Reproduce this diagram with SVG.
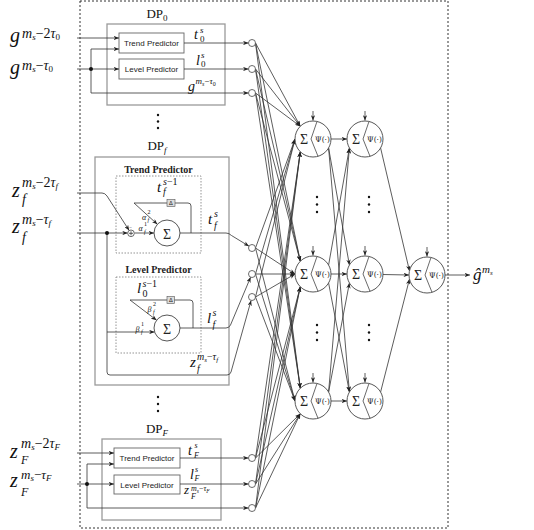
<svg xmlns="http://www.w3.org/2000/svg" width="534" height="530" viewBox="0 0 534 530">
<style>
.c{fill:none;stroke:#333;stroke-width:0.8}
.ca{fill:none;stroke:#333;stroke-width:0.8;marker-end:url(#ah)}
.box{fill:none;stroke:#9a9a9a;stroke-width:1.3}
.pb{fill:#fff;stroke:#666;stroke-width:0.9}
.dbox{fill:none;stroke:#888;stroke-width:0.9;stroke-dasharray:1.5 1.5}
.in{fill:#fff;stroke:#444;stroke-width:0.8}
.nrn{fill:#fff;stroke:#444;stroke-width:0.9}
.dv{fill:none;stroke:#444;stroke-width:0.8}
.mi{font-family:"Liberation Serif",serif;font-style:italic;fill:#111}
.up{font-style:normal}
.rm{font-family:"Liberation Serif",serif;fill:#111}
.sans{font-family:"Liberation Sans",Arial,sans-serif;font-size:8px;fill:#222;text-anchor:middle}
.ttl{font-family:"Liberation Serif",serif;font-weight:bold;font-size:10px;text-anchor:middle;fill:#222}
.sig{font-family:"Liberation Serif",serif;font-size:14px;text-anchor:middle;fill:#222}
.psi{font-family:"DejaVu Serif",serif;font-size:7.5px;text-anchor:middle;fill:#222}
.dl{fill:#dcdcdc;stroke:#555;stroke-width:0.6}
.dt{font-family:"DejaVu Sans",sans-serif;font-size:5.5px;text-anchor:middle;fill:#222}
.pt{fill:#111}
</style>
<defs>
<marker id="ah" viewBox="0 0 10 8" refX="10" refY="4" markerWidth="5.5" markerHeight="4.4" orient="auto" markerUnits="userSpaceOnUse">
<path d="M0,0 L10,4 L0,8 L3,4 z" fill="#222"/>
</marker>
</defs>

<rect x="80" y="1" width="368" height="527" fill="none" stroke="#333" stroke-width="1" stroke-dasharray="2 2"/>

<g id="inputs">
<text class="mi" font-size="20" x="10" y="42">g</text>
<text class="mi" font-size="14" x="22" y="37.5">m<tspan font-size="9" dy="2">s</tspan><tspan class="up" dy="-2">−2</tspan>τ<tspan class="up" font-size="9" dy="2">0</tspan></text>
<text class="mi" font-size="20" x="10" y="74">g</text>
<text class="mi" font-size="14" x="22" y="69.5">m<tspan font-size="9" dy="2">s</tspan><tspan class="up" dy="-2">−</tspan>τ<tspan class="up" font-size="9" dy="2">0</tspan></text>

<text class="mi" font-size="20" x="12" y="197">z</text>
<text class="mi" font-size="14" x="22" y="186.5">m<tspan font-size="9" dy="2">s</tspan><tspan class="up" dy="-2">−2</tspan>τ<tspan font-size="9" dy="2">f</tspan></text>
<text class="mi" font-size="14" x="22" y="204">f</text>
<text class="mi" font-size="20" x="12" y="233">z</text>
<text class="mi" font-size="14" x="22" y="224">m<tspan font-size="9" dy="2">s</tspan><tspan class="up" dy="-2">−</tspan>τ<tspan font-size="9" dy="2">f</tspan></text>
<text class="mi" font-size="14" x="22" y="242">f</text>

<text class="mi" font-size="20" x="10" y="458">z</text>
<text class="mi" font-size="14" x="21" y="448">m<tspan font-size="9" dy="2">s</tspan><tspan class="up" dy="-2">−2</tspan>τ<tspan font-size="9" dy="2">F</tspan></text>
<text class="mi" font-size="12" x="21" y="464">F</text>
<text class="mi" font-size="20" x="10" y="487">z</text>
<text class="mi" font-size="13" x="21" y="479">m<tspan font-size="9" dy="2">s</tspan><tspan class="up" dy="-2">−</tspan>τ<tspan font-size="9" dy="2">F</tspan></text>
<text class="mi" font-size="12" x="21" y="496">F</text>
</g>

<g id="DP0">
<text class="rm" font-size="13" x="157" y="18" text-anchor="middle">DP<tspan font-size="9" dy="2.5">0</tspan></text>
<rect class="box" x="107" y="24" width="118" height="81"/>
<rect class="pb" x="119" y="33" width="65" height="20"/>
<text class="sans" x="151.5" y="46">Trend Predictor</text>
<rect class="pb" x="119" y="59" width="65" height="20"/>
<text class="sans" x="151.5" y="72">Level Predictor</text>
<text class="mi" font-size="14" x="194" y="39">t</text>
<text class="mi" font-size="9" x="200" y="32.5">s</text>
<text class="rm" font-size="9" x="200" y="41.5">0</text>
<text class="mi" font-size="14" x="196" y="65">l</text>
<text class="mi" font-size="9" x="201" y="58">s</text>
<text class="rm" font-size="9" x="201" y="67">0</text>
<text class="mi" font-size="14" x="188" y="91">g</text>
<text class="mi" font-size="9" x="195.5" y="84">m<tspan font-size="6" dy="1.5">s</tspan><tspan class="up" dy="-1.5">−</tspan>τ<tspan class="up" font-size="6" dy="1.5">0</tspan></text>
</g>

<g id="dots">
<circle class="pt" cx="158" cy="115" r="1.2"/><circle class="pt" cx="158" cy="121.5" r="1.2"/><circle class="pt" cx="158" cy="128" r="1.2"/>
<circle class="pt" cx="158" cy="397" r="1.2"/><circle class="pt" cx="158" cy="404" r="1.2"/><circle class="pt" cx="158" cy="411" r="1.2"/>
<circle class="pt" cx="317" cy="197" r="1.2"/><circle class="pt" cx="317" cy="204.5" r="1.2"/><circle class="pt" cx="317" cy="212" r="1.2"/>
<circle class="pt" cx="317" cy="325" r="1.2"/><circle class="pt" cx="317" cy="332.5" r="1.2"/><circle class="pt" cx="317" cy="340" r="1.2"/>
<circle class="pt" cx="369" cy="197" r="1.2"/><circle class="pt" cx="369" cy="204.5" r="1.2"/><circle class="pt" cx="369" cy="212" r="1.2"/>
<circle class="pt" cx="369" cy="325" r="1.2"/><circle class="pt" cx="369" cy="332.5" r="1.2"/><circle class="pt" cx="369" cy="340" r="1.2"/>
</g>

<g id="DPf">
<text class="rm" font-size="13" x="157" y="150" text-anchor="middle">DP<tspan class="mi" font-size="9" dy="2.5">f</tspan></text>
<rect class="box" x="95" y="157" width="134" height="228"/>
<rect class="dbox" x="116" y="176" width="85" height="77"/>
<text class="ttl" x="158.5" y="173">Trend Predictor</text>
<rect class="dbox" x="116" y="277" width="85" height="76"/>
<text class="ttl" x="158.5" y="273">Level Predictor</text>
</g>

<g id="DPF">
<text class="rm" font-size="13" x="157" y="433" text-anchor="middle">DP<tspan class="mi" font-size="9" dy="2.5">F</tspan></text>
<rect class="box" x="102" y="439" width="119" height="81"/>
<rect class="pb" x="114" y="448" width="66" height="20"/>
<text class="sans" x="147" y="461">Trend Predictor</text>
<rect class="pb" x="114" y="475" width="66" height="19"/>
<text class="sans" x="147" y="487.5">Level Predictor</text>
<text class="mi" font-size="14" x="188" y="455">t</text>
<text class="mi" font-size="8" x="194.5" y="447.5">s</text>
<text class="mi" font-size="8" x="194" y="457.5">F</text>
<text class="mi" font-size="14" x="190" y="478.5">l</text>
<text class="mi" font-size="8" x="195" y="471.5">s</text>
<text class="mi" font-size="8" x="194.5" y="480.5">F</text>
<text class="mi" font-size="13" x="184" y="494">z</text>
<text class="mi" font-size="8" x="191" y="491">m<tspan font-size="5.5" dy="1.5">s</tspan><tspan class="up" dy="-1.5">−</tspan>τ<tspan font-size="5.5" dy="1.5">F</tspan></text>
<text class="mi" font-size="8" x="191" y="499">F</text>
</g>

<g id="connectors">
<path class="ca" d="M77,38 L119,38"/>
<path class="ca" d="M77,69 L119,69"/>
<path class="ca" d="M91,69 L91,49 L119,49"/>
<path class="ca" d="M91,69 L91,93 L248.5,93"/>
<path class="ca" d="M184,43 L248.5,43"/>
<path class="ca" d="M184,69 L248.5,69"/>
<path class="ca" d="M77,453 L114,453"/>
<path class="ca" d="M77,484 L114,484"/>
<path class="ca" d="M87,484 L87,464 L114,464"/>
<path class="ca" d="M87,484 L87,508 L248.5,508"/>
<path class="ca" d="M180,458 L248.5,458"/>
<path class="ca" d="M180,484 L248.5,484"/>
<path class="ca" d="M77,193 L102,193 Q105,193 107,196 L129.2,230.5"/>
<path class="ca" d="M77,233 L127.7,233"/>
<path class="ca" d="M134.5,233 L154,233"/>
<path class="ca" d="M191,233 L191,206 Q191,203 188,203 L134,203 L157.4,224.3"/>
<path class="ca" d="M180,233 L226,233 Q229,233 231.5,235.5 L249,246.2"/>
<path class="ca" d="M107,233 L107,372 Q107,375 110,375 L227,375 Q230,375 231,372 L251.1,300.4"/>
<path class="ca" d="M107,332 L154.6,332"/>
<path class="ca" d="M193,328 L193,303 Q193,300 190,300 L130,300 L156.6,320.2"/>
<path class="ca" d="M180,328 L226,328 Q229,328 230.5,325 L250.6,277.2"/>

<path class="ca" d="M255.5,43 L300.3,126.3"/>
<path class="ca" d="M255.5,69 L300.3,126.3"/>
<path class="ca" d="M255.5,93 L300.3,126.3"/>
<path class="ca" d="M255.5,43 L300.3,261.3"/>
<path class="ca" d="M255.5,69 L300.3,261.3"/>
<path class="ca" d="M255.5,93 L300.3,261.3"/>
<path class="ca" d="M255.5,43 L300.3,388.3"/>
<path class="ca" d="M255.5,69 L300.3,388.3"/>
<path class="ca" d="M255.5,93 L300.3,388.3"/>
<path class="ca" d="M255.5,248 L295,139"/>
<path class="ca" d="M255.5,274 L295,139"/>
<path class="ca" d="M255.5,297 L295,139"/>
<path class="ca" d="M255.5,248 L295,274"/>
<path class="ca" d="M255.5,274 L295,274"/>
<path class="ca" d="M255.5,297 L295,274"/>
<path class="ca" d="M255.5,248 L295,401"/>
<path class="ca" d="M255.5,274 L295,401"/>
<path class="ca" d="M255.5,297 L295,401"/>
<path class="ca" d="M255.5,458 L300.3,151.7"/>
<path class="ca" d="M255.5,484 L300.3,151.7"/>
<path class="ca" d="M255.5,508 L300.3,151.7"/>
<path class="ca" d="M255.5,458 L300.3,286.7"/>
<path class="ca" d="M255.5,484 L300.3,286.7"/>
<path class="ca" d="M255.5,508 L300.3,286.7"/>
<path class="ca" d="M255.5,458 L300.3,413.7"/>
<path class="ca" d="M255.5,484 L300.3,413.7"/>
<path class="ca" d="M255.5,508 L300.3,413.7"/>

<path class="ca" d="M331,139 L347,139"/>
<path class="ca" d="M328.6,148 L349.4,265"/>
<path class="ca" d="M328.6,148 L349.4,392"/>
<path class="ca" d="M328.6,265 L349.4,148"/>
<path class="ca" d="M331,274 L347,274"/>
<path class="ca" d="M328.6,283 L349.4,392"/>
<path class="ca" d="M328.6,392 L349.4,148"/>
<path class="ca" d="M328.6,392 L349.4,283"/>
<path class="ca" d="M331,401 L347,401"/>

<path class="ca" d="M380.6,148 L409.5,271"/>
<path class="ca" d="M383,274.5 L409,275"/>
<path class="ca" d="M380.6,392 L409.5,279"/>
<path class="ca" d="M445,275 L470,275"/>

<path class="ca" d="M313,111 L313,120.5"/>
<path class="ca" d="M313,246 L313,255.5"/>
<path class="ca" d="M313,373 L313,382.5"/>
<path class="ca" d="M365,111 L365,120.5"/>
<path class="ca" d="M365,246 L365,255.5"/>
<path class="ca" d="M365,373 L365,382.5"/>
<path class="ca" d="M427,247 L427,256.5"/>
</g>

<g id="DPf-nodes">
<circle class="pt" cx="107" cy="233" r="2"/>
<circle class="in" cx="131" cy="233.3" r="3.3"/>
<path class="c" d="M129,233.3 H133 M131,231.3 V235.3" stroke-width="0.6"/>
<text class="rm" font-size="5" x="129.3" y="228.5">−</text>
<circle class="nrn" cx="167" cy="233" r="13"/>
<text class="sig" font-size="16" x="167" y="239">Σ</text>
<rect class="dl" x="167" y="199.5" width="8" height="7"/>
<text class="dt" x="171" y="205">Δ</text>
<text class="mi" font-size="8" x="142" y="220">α</text>
<text class="rm" font-size="6" x="147.5" y="213.5">2</text>
<text class="mi" font-size="6" x="147.5" y="222">f</text>
<text class="mi" font-size="8" x="138.5" y="231">α</text>
<text class="rm" font-size="6" x="144" y="225.5">1</text>
<text class="mi" font-size="6" x="144" y="233.5">f</text>
<text class="mi" font-size="15" x="157" y="192">t</text>
<text class="mi" font-size="10" x="163" y="185">s<tspan class="up">−1</tspan></text>
<text class="mi" font-size="10" x="163" y="195">f</text>
<text class="mi" font-size="15" x="208" y="224">t</text>
<text class="mi" font-size="10" x="214" y="217">s</text>
<text class="mi" font-size="10" x="214" y="229">f</text>

<circle class="nrn" cx="167" cy="328" r="13"/>
<text class="sig" font-size="16" x="167" y="334">Σ</text>
<rect class="dl" x="167" y="296.5" width="7.5" height="7"/>
<text class="dt" x="170.8" y="302">Δ</text>
<text class="mi" font-size="8" x="147.5" y="312">β</text>
<text class="rm" font-size="6" x="153" y="306">2</text>
<text class="mi" font-size="6" x="153" y="314">f</text>
<text class="mi" font-size="8" x="135.5" y="332">β</text>
<text class="rm" font-size="6" x="141" y="326">1</text>
<text class="mi" font-size="6" x="141" y="334">f</text>
<text class="mi" font-size="15" x="137" y="293">l</text>
<text class="mi" font-size="10" x="142.5" y="286.5">s<tspan class="up">−1</tspan></text>
<text class="rm" font-size="10" x="142.5" y="296.5">0</text>
<text class="mi" font-size="15" x="207" y="323">l</text>
<text class="mi" font-size="10" x="212.5" y="316">s</text>
<text class="mi" font-size="10" x="212.5" y="328">f</text>
<text class="mi" font-size="15" x="190" y="367">z</text>
<text class="mi" font-size="10" x="197" y="360">m<tspan font-size="7" dy="1.5">s</tspan><tspan class="up" dy="-1.5">−</tspan>τ<tspan font-size="7" dy="1.5">f</tspan></text>
<text class="mi" font-size="10" x="197" y="372">f</text>
</g>

<g id="junctions">
<circle class="pt" cx="91" cy="69" r="2"/>
<circle class="pt" cx="87" cy="484" r="2"/>
</g>

<g id="input-nodes">
<circle class="in" cx="252" cy="43" r="3.5"/>
<circle class="in" cx="252" cy="69" r="3.5"/>
<circle class="in" cx="252" cy="93" r="3.5"/>
<circle class="in" cx="252" cy="248" r="3.5"/>
<circle class="in" cx="252" cy="274" r="3.5"/>
<circle class="in" cx="252" cy="297" r="3.5"/>
<circle class="in" cx="252" cy="458" r="3.5"/>
<circle class="in" cx="252" cy="484" r="3.5"/>
<circle class="in" cx="252" cy="508" r="3.5"/>
</g>

<g id="h1a"><circle class="nrn" cx="313" cy="139" r="18"/><path class="dv" d="M317,121.45 L311,139 L318,156.3"/><text class="sig" x="304" y="144">Σ</text><text class="psi" x="322.5" y="142">Ψ(·)</text></g>
<g id="h1b"><circle class="nrn" cx="313" cy="274" r="18"/><path class="dv" d="M317,256.45 L311,274 L318,291.3"/><text class="sig" x="304" y="279">Σ</text><text class="psi" x="322.5" y="277">Ψ(·)</text></g>
<g id="h1c"><circle class="nrn" cx="313" cy="401" r="18"/><path class="dv" d="M317,383.45 L311,401 L318,418.3"/><text class="sig" x="304" y="406">Σ</text><text class="psi" x="322.5" y="404">Ψ(·)</text></g>
<g id="h2a"><circle class="nrn" cx="365" cy="139" r="18"/><path class="dv" d="M369,121.45 L363,139 L370,156.3"/><text class="sig" x="356" y="144">Σ</text><text class="psi" x="374.5" y="142">Ψ(·)</text></g>
<g id="h2b"><circle class="nrn" cx="365" cy="274" r="18"/><path class="dv" d="M369,256.45 L363,274 L370,291.3"/><text class="sig" x="356" y="279">Σ</text><text class="psi" x="374.5" y="277">Ψ(·)</text></g>
<g id="h2c"><circle class="nrn" cx="365" cy="401" r="18"/><path class="dv" d="M369,383.45 L363,401 L370,418.3"/><text class="sig" x="356" y="406">Σ</text><text class="psi" x="374.5" y="404">Ψ(·)</text></g>
<g id="out"><circle class="nrn" cx="427" cy="275" r="18"/><path class="dv" d="M431,257.45 L425,275 L432,292.3"/><text class="sig" x="418" y="280">Σ</text><text class="psi" x="436.5" y="278">Ψ(·)</text></g>

<g id="output-label">
<text class="mi" font-size="17" x="473" y="280">ĝ</text>
<text class="mi" font-size="11" x="482" y="273">m<tspan font-size="7" dy="2">s</tspan></text>
</g>
</svg>
